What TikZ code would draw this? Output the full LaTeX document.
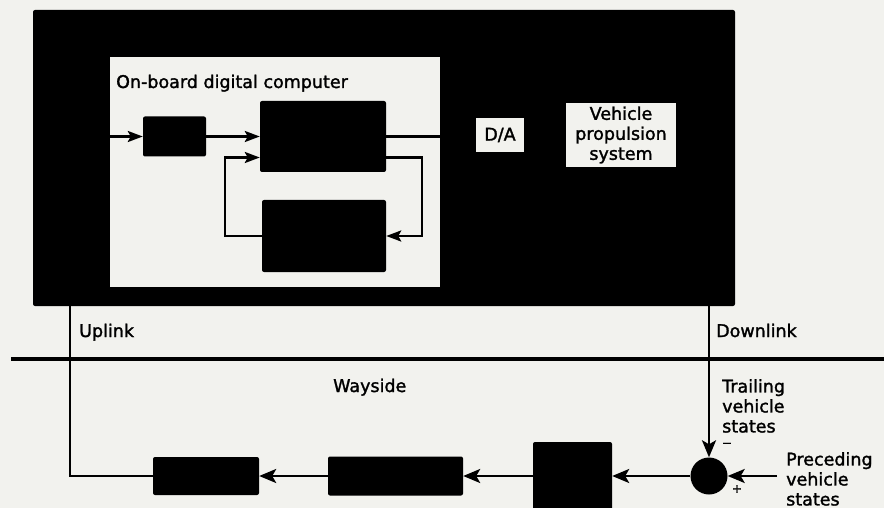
\documentclass[tikz,border=0pt]{standalone}
\usepackage{fontspec}
\setmainfont{DejaVu Sans}[BoldFont={DejaVu Sans},BoldFeatures={FakeBold=1.6}]
\usetikzlibrary{arrows.meta}
\definecolor{paper}{RGB}{242,242,238}
\begin{document}
\begin{tikzpicture}[x=1pt,y=-1pt]
\tikzset{
 blk/.style={fill=black, rounded corners=2pt, inner sep=0pt},
 lbl/.style={font=\fontsize{17.5}{20}\selectfont\bfseries, inner sep=0pt},
 wbox/.style={fill=paper, inner sep=0pt, align=center, lbl},
 ln/.style={line width=2.5pt},
 arr/.style={ln, -{Stealth[length=15pt,width=11pt,inset=3pt]}},
 arrb/.style={ln, -{Stealth[length=17pt,width=14pt,inset=4pt]}},
 sgn/.style={font=\fontsize{12}{12}\selectfont\bfseries, inner sep=0pt},
}
\fill[paper] (0,0) rectangle (884,508);
\useasboundingbox (0,0) rectangle (884,508);
% vehicle (black) and computer
\node[blk, minimum width=702pt, minimum height=296pt] (veh) at (384,158) {};
\node[fill=paper, inner sep=0pt, minimum width=330pt, minimum height=230pt] (comp) at (275,172) {};
\node[blk, minimum width=63pt, minimum height=40pt] (sbox) at (174.5,136.5) {};
\node[blk, minimum width=126pt, minimum height=71pt] (box1) at (323,136.5) {};
\node[blk, minimum width=124pt, minimum height=72pt] (box2) at (324,236) {};
\node[wbox, minimum width=48pt, minimum height=34pt] (da) at (500,135) {D/A};
\node[wbox, minimum width=110pt, minimum height=64pt] (prop) at (621,135) {Vehicle\\propulsion\\system};
% wayside blocks
\node[circle, fill=black, inner sep=0pt, minimum size=37pt] (sum) at (709,476) {};
\node[blk, minimum width=79pt, minimum height=80pt] (tall) at (572.5,482) {};
\node[blk, minimum width=135pt, minimum height=39pt] (mid) at (395.5,476) {};
\node[blk, minimum width=106pt, minimum height=38pt] (lft) at (206,476) {};
% coordinates
\coordinate (up) at (70,306);
\coordinate (down) at (709,306);
\coordinate (w1) at (11,359);
\coordinate (w2) at (884,359);
\coordinate (pre) at (777,476);
% computer connectors
\draw[arr] (comp.west |- sbox.west) -- (sbox.west);
\draw[arr] (sbox.east) -- (box1.west);
\draw[ln] (box1.east) -- (comp.east |- box1.east);
\draw[arr] ([yshift=-21pt]box1.east) -- ++(36,0) |- (box2.east);
\draw[arr] (box2.west) -- ++(-37,0) |- ([yshift=-21pt]box1.west);
% links
\draw[ln] (lft.west) -| (up);
\draw[line width=4.5pt] (w1) -- (w2);
\draw[arrb] (down) -- (sum.north);
\draw[arrb] (pre) -- (sum.east);
\draw[arrb] (sum.west) -- (sum.west -| tall.east);
\draw[arrb] (mid.east -| tall.west) -- (mid.east);
\draw[arrb] (mid.west) -- (lft.east);
% labels
\node[lbl, anchor=base west] (tcomp) at (116,88) {On-board digital computer};
\node[lbl, anchor=base west] (tup) at (79,337) {Uplink};
\node[lbl, anchor=base west] (tdown) at (716,337) {Downlink};
\node[lbl, anchor=base west] (tway) at (333,392) {Wayside};
\node[lbl, anchor=north west, align=left] (ttrail) at (722,379) {Trailing\\vehicle\\states};
\node[lbl, anchor=north west, align=left] (tprec) at (786,452) {Preceding\\vehicle\\states};
\node[sgn] (tminus) at (727,445) {−};
\node[sgn] (tplus) at (737,489) {+};
\end{tikzpicture}
\end{document}
